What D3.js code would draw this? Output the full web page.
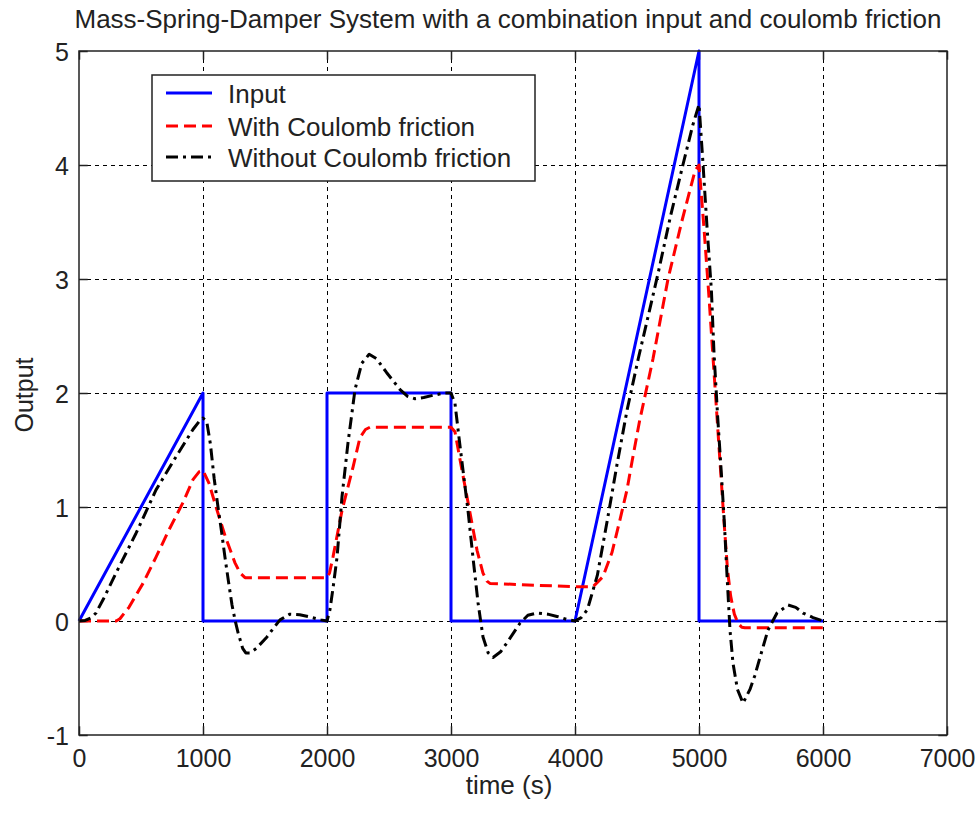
<!DOCTYPE html>
<html><head><meta charset="utf-8">
<script src="https://cdn.jsdelivr.net/npm/d3@7"></script>
<style>
html,body{margin:0;padding:0;background:#fff;}
svg{display:block;font-family:"Liberation Sans",Arial,sans-serif;}
</style>
</head><body><svg id="chart" width="978" height="814"></svg>
<script>
// ---- data ----
const chartTitle = "Mass-Spring-Damper System with a combination input and coulomb friction";
const xLabel = "time (s)";
const yLabel = "Output";
const xTicks = [0, 1000, 2000, 3000, 4000, 5000, 6000, 7000];
const yTicks = [-1, 0, 1, 2, 3, 4, 5];
const seriesNames = ["Input", "With Coulomb friction", "Without Coulomb friction"];

const inputTime  = [0, 1000, 1000, 2000, 2000, 3000, 3000, 4000, 5000, 5000, 6000];
const inputValue = [0, 2, 0, 0, 2, 2, 0, 0, 5, 0, 0];

const coulombTime  = [0, 300, 330, 403, 516, 621, 726, 839, 919, 970, 1000, 1048, 1105, 1180, 1258, 1300, 1339,
  2000, 2020, 2048, 2121, 2210, 2266, 2310, 2347, 3000, 3032, 3089, 3153, 3210, 3258, 3290, 3314,
  4000, 4145, 4226, 4298, 4363, 4419, 4460, 4520, 4629, 4750, 4860, 4968, 5000,
  5040, 5080, 5120, 5160, 5200, 5230, 5255, 5285, 5315, 5345, 5370, 6000];
const coulombValue = [0, 0, 0.02, 0.12, 0.33, 0.56, 0.80, 1.04, 1.24, 1.31, 1.32, 1.21, 1.0, 0.74, 0.51, 0.42, 0.38,
  0.38, 0.42, 0.56, 0.97, 1.35, 1.61, 1.68, 1.70, 1.70, 1.66, 1.32, 0.95, 0.62, 0.42, 0.35, 0.33,
  0.30, 0.30, 0.39, 0.60, 0.89, 1.15, 1.40, 1.75, 2.30, 3.00, 3.50, 3.95, 4.00,
  3.45, 2.85, 2.20, 1.55, 0.90, 0.45, 0.22, 0.06, -0.02, -0.055, -0.06, -0.06];

const freeTime  = [0, 50, 100, 137, 200, 298, 460, 621, 782, 919, 975, 1000, 1030, 1060, 1090, 1121, 1150, 1177, 1205, 1234, 1260, 1282, 1320, 1345, 1380, 1430, 1516, 1570, 1621, 1700, 1780, 1863, 1950,
  2000, 2024, 2050, 2081, 2121, 2169, 2226, 2280, 2340, 2400, 2480, 2589, 2650, 2710, 2780, 2855, 2950,
  3000, 3032, 3060, 3089, 3137, 3177, 3218, 3258, 3300, 3339, 3400, 3452, 3556, 3620, 3694, 3780, 3855, 3930,
  4000, 4050, 4100, 4180, 4260, 4340, 4420, 4510, 4600, 4670, 4770, 4870, 4950,
  5000, 5030, 5065, 5100, 5121, 5150, 5180, 5205, 5226, 5250, 5274, 5310, 5355, 5411, 5450, 5492, 5556, 5629, 5718, 5780, 5839, 5920, 6000];
const freeValue = [0, 0.005, 0.03, 0.07, 0.2, 0.42, 0.77, 1.15, 1.44, 1.68, 1.76, 1.78, 1.75, 1.55, 1.25, 1.0, 0.78, 0.56, 0.35, 0.14, 0.0, -0.1, -0.24, -0.28, -0.28, -0.24, -0.14, -0.06, 0.01, 0.06, 0.055, 0.035, 0.01,
  0.0, 0.1, 0.3, 0.56, 1.09, 1.56, 2.03, 2.26, 2.34, 2.30, 2.18, 2.03, 1.97, 1.95, 1.96, 1.98, 2.0,
  2.0, 1.91, 1.65, 1.39, 0.97, 0.56, 0.16, -0.14, -0.28, -0.32, -0.27, -0.19, -0.02, 0.05, 0.07, 0.06, 0.04, 0.015,
  0.0, 0.03, 0.1, 0.4, 0.88, 1.38, 1.85, 2.3, 2.72, 3.05, 3.55, 4.0, 4.35,
  4.53, 4.05, 3.45, 2.9, 2.35, 1.8, 1.3, 0.85, 0.4, -0.08, -0.37, -0.6, -0.72, -0.6, -0.48, -0.32, -0.08, 0.07, 0.14, 0.12, 0.07, 0.03, 0.0];

// ---- layout ----
const L = 79, T = 51, R = 947, B = 735;
const svg = d3.select("#chart");
const x = d3.scaleLinear().domain([0, 7000]).range([L, R]);
const y = d3.scaleLinear().domain([-1, 5]).range([B, T]);
const tickLen = 8.7;
const fmt = d => String(d); // plain hyphen for negatives

// grid
const grid = svg.append("g").attr("stroke", "#000").attr("stroke-width", 1)
  .attr("stroke-dasharray", "4,4").attr("shape-rendering", "crispEdges");
grid.selectAll(".gx").data(xTicks.slice(1, -1)).join("line")
  .attr("x1", d => x(d)).attr("x2", d => x(d)).attr("y1", T).attr("y2", B);
grid.selectAll(".gy").data(yTicks.slice(1, -1)).join("line")
  .attr("y1", d => y(d)).attr("y2", d => y(d)).attr("x1", L).attr("x2", R);

// axes (ticks inside)
const fontTick = 25;
const axB = svg.append("g").attr("transform", `translate(0,${B})`)
  .call(d3.axisBottom(x).tickValues(xTicks).tickSizeInner(-tickLen).tickSizeOuter(0).tickPadding(14).tickFormat(fmt));
const axT = svg.append("g").attr("transform", `translate(0,${T})`)
  .call(d3.axisTop(x).tickValues(xTicks).tickSizeInner(-tickLen).tickSizeOuter(0).tickFormat(""));
const axL = svg.append("g").attr("transform", `translate(${L},0)`)
  .call(d3.axisLeft(y).tickValues(yTicks).tickSizeInner(-tickLen).tickSizeOuter(0).tickPadding(10).tickFormat(fmt));
const axR = svg.append("g").attr("transform", `translate(${R},0)`)
  .call(d3.axisRight(y).tickValues(yTicks).tickSizeInner(-tickLen).tickSizeOuter(0).tickFormat(""));
[axB, axT, axL, axR].forEach(a => {
  a.select(".domain").remove();
  a.selectAll(".tick line").attr("stroke", "#222").attr("stroke-width", 1.5);
  a.selectAll("text").attr("font-size", fontTick).attr("fill", "#222").attr("font-family", "Liberation Sans, Arial, sans-serif");
});
axL.selectAll("text").attr("dy", "0.36em");

// lines
const lineGen = d3.line().x(d => x(d[0])).y(d => y(d[1]));
const zip = (a, b) => a.map((v, i) => [v, b[i]]);
const plotG = svg.append("g").attr("fill", "none").attr("stroke-linejoin", "round");
plotG.append("path").datum(zip(inputTime, inputValue)).attr("d", lineGen)
  .attr("stroke", "#0000ff").attr("stroke-width", 3);
plotG.append("path").datum(zip(coulombTime, coulombValue)).attr("d", lineGen)
  .attr("stroke", "#ff0000").attr("stroke-width", 3).attr("stroke-dasharray", "12,6");
plotG.append("path").datum(zip(freeTime, freeValue)).attr("d", lineGen)
  .attr("stroke", "#000").attr("stroke-width", 3).attr("stroke-dasharray", "12,5,3,5");

// box
svg.append("rect").attr("x", L).attr("y", T).attr("width", R - L).attr("height", B - T)
  .attr("fill", "none").attr("stroke", "#222").attr("stroke-width", 1.5);

// title and labels
svg.append("text").attr("x", 508).attr("y", 28).attr("text-anchor", "middle")
  .attr("font-size", 26).attr("fill", "#222").text(chartTitle);
svg.append("text").attr("x", 509).attr("y", 794).attr("text-anchor", "middle")
  .attr("font-size", 26).attr("fill", "#222").text(xLabel);
svg.append("text").attr("transform", "translate(33,395) rotate(-90)").attr("text-anchor", "middle")
  .attr("font-size", 25).attr("fill", "#222").text(yLabel);

// legend
const leg = svg.append("g");
leg.append("rect").attr("x", 152).attr("y", 75).attr("width", 383).attr("height", 106)
  .attr("fill", "#fff").attr("stroke", "#222").attr("stroke-width", 1.5);
const legStyles = [
  {color: "#0000ff", dash: null},
  {color: "#ff0000", dash: "12,6"},
  {color: "#000", dash: "12,5,3,5"}
];
const rowY = [93, 126, 157];
seriesNames.forEach((name, i) => {
  const l = leg.append("line").attr("x1", 166).attr("x2", 212).attr("y1", rowY[i]).attr("y2", rowY[i])
    .attr("stroke", legStyles[i].color).attr("stroke-width", 3);
  if (legStyles[i].dash) l.attr("stroke-dasharray", legStyles[i].dash);
  leg.append("text").attr("x", 228).attr("y", rowY[i] + 10).attr("font-size", 26).attr("fill", "#222").text(name);
});
</script></body></html>
